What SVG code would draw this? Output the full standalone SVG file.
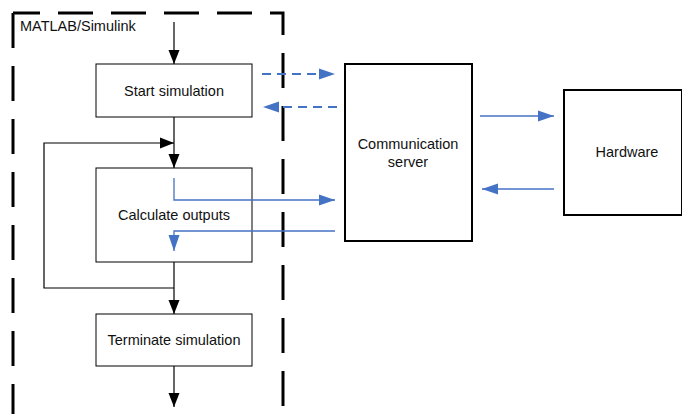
<svg xmlns="http://www.w3.org/2000/svg" width="682" height="414" viewBox="0 0 682 414">
  <defs>
    <marker id="ahBlack" markerWidth="14" markerHeight="12" refX="14" refY="6" orient="auto" markerUnits="userSpaceOnUse">
      <path d="M0,0.5 L14,6 L0,11.5 Z" fill="#000"/>
    </marker>
    <marker id="ahBlue" markerWidth="16" markerHeight="12" refX="16" refY="6" orient="auto" markerUnits="userSpaceOnUse">
      <path d="M0,0.5 L16,6 L0,11.5 Z" fill="#4472C4"/>
    </marker>
  </defs>
  <style>
    .box { fill: #fff; stroke: #000; stroke-width: 1; }
    .thick { fill: #fff; stroke: #000; stroke-width: 2; }
    .lbl { font-family: "Liberation Sans", Arial, sans-serif; font-size: 14.5px; fill: #111; text-anchor: middle; }
    .flow { fill: none; stroke: #000; stroke-width: 1.2; }
    .sig { fill: none; stroke: #4472C4; stroke-width: 1.3; }
    .sigd { fill: none; stroke: #4472C4; stroke-width: 2; stroke-dasharray: 9 6; }
    .bound { fill: none; stroke: #000; stroke-width: 3; stroke-dasharray: 35 18; }
  </style>

  <rect width="682" height="414" fill="#fff"/>

  <!-- MATLAB/Simulink boundary -->
  <g id="frame">
    <path d="M13,13 V414" class="bound"/>
    <path d="M13,13 H283 V414" class="bound" stroke-dashoffset="8"/>
    <text x="20" y="31" class="lbl" style="text-anchor:start">MATLAB/Simulink</text>
  </g>

  <g id="start">
    <rect x="96" y="64" width="156" height="53" class="box"/>
    <text x="174" y="96" class="lbl">Start simulation</text>
  </g>

  <g id="calc">
    <rect x="96" y="168" width="156" height="94" class="box"/>
    <text x="174" y="220" class="lbl">Calculate outputs</text>
  </g>

  <g id="terminate">
    <rect x="96" y="314" width="156" height="52" class="box"/>
    <text x="174" y="345" class="lbl">Terminate simulation</text>
  </g>

  <g id="server">
    <rect x="345" y="64" width="127" height="177" class="thick"/>
    <text x="408" y="149" class="lbl">Communication</text>
    <text x="408" y="167" class="lbl">server</text>
  </g>

  <g id="hardware">
    <rect x="564" y="90" width="118" height="125" class="thick"/>
    <text x="627" y="157" class="lbl">Hardware</text>
  </g>

  <g id="connectors">
    <!-- control flow -->
    <path d="M174,22 V64" class="flow" marker-end="url(#ahBlack)"/>
    <path d="M174,117 V168" class="flow" marker-end="url(#ahBlack)"/>
    <path d="M174,262 V314" class="flow" marker-end="url(#ahBlack)"/>
    <path d="M174,288 H44 V143 H174" class="flow" marker-end="url(#ahBlack)"/>
    <path d="M174,366 V407" class="flow" marker-end="url(#ahBlack)"/>

    <!-- setup exchange with server -->
    <path d="M262,74 H335" class="sigd" marker-end="url(#ahBlue)"/>
    <path d="M337,107 H263" class="sigd" marker-end="url(#ahBlue)"/>

    <!-- per-step data exchange -->
    <path d="M174,178 V200 H335" class="sig" marker-end="url(#ahBlue)"/>
    <path d="M335,231 H174 V251" class="sig" marker-end="url(#ahBlue)"/>

    <!-- server to hardware -->
    <path d="M480,116 H554" class="sig" marker-end="url(#ahBlue)"/>
    <path d="M554,189 H482" class="sig" marker-end="url(#ahBlue)"/>
  </g>
</svg>
